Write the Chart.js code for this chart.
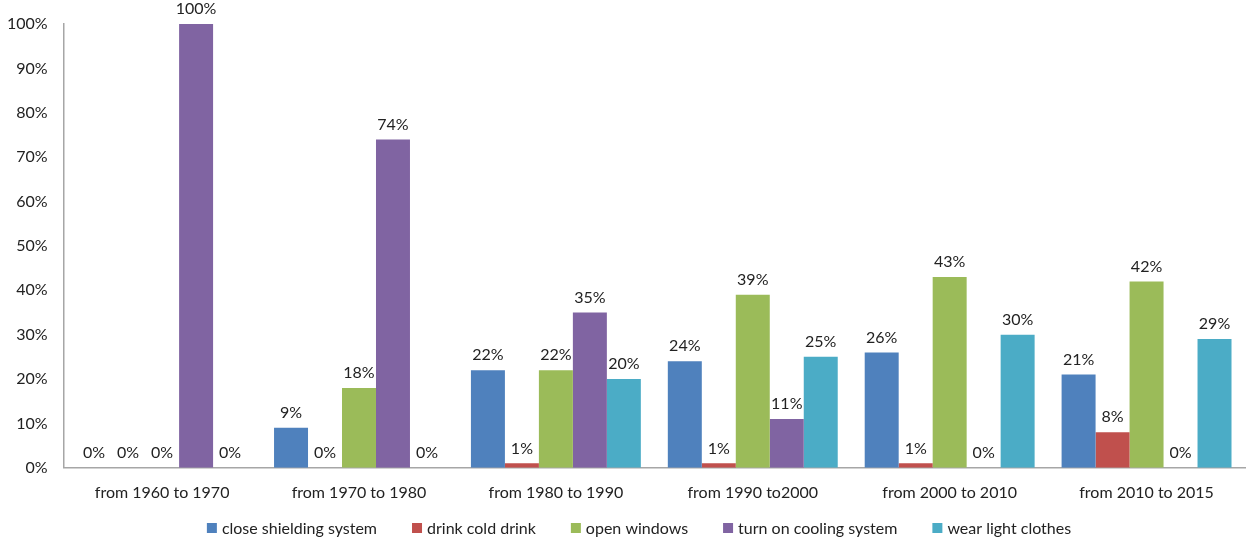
<!DOCTYPE html>
<html>
<head>
<meta charset="utf-8">
<script src="https://cdn.jsdelivr.net/npm/chart.js@4"></script>
<style>
  html, body { margin: 0; padding: 0; background: #fff; }
  #wrap { width: 1253px; height: 540px; }
</style>
</head>
<body>
<div id="wrap"><canvas id="coolChart"></canvas></div>
<script>
'use strict';

// periods and series
var periods = ["from 1960 to 1970", "from 1970 to 1980", "from 1980 to 1990", "from 1990 to2000", "from 2000 to 2010", "from 2010 to 2015"];
var closeShielding = [0, 9, 22, 24, 26, 21];
var drinkCold      = [0, 0, 1, 1, 1, 8];
var openWindows    = [0, 18, 22, 39, 43, 42];
var coolingSystem  = [100, 74, 35, 11, 0, 0];
var lightClothes   = [0, 0, 20, 25, 30, 29];
var yTicks = [0, 10, 20, 30, 40, 50, 60, 70, 80, 90, 100];

var font = "Lato, 'Open Sans', sans-serif";
var textColor = '#222';

// percentage label above each bar
var barLabels = {
  id: 'barLabels',
  afterDatasetsDraw: function(chart) {
    var c = chart.ctx;
    c.save();
    c.font = '16px ' + font;
    c.fillStyle = textColor;
    c.textAlign = 'center';
    c.textBaseline = 'bottom';
    chart.data.datasets.forEach(function(ds, i) {
      chart.getDatasetMeta(i).data.forEach(function(bar, j) {
        c.fillText(ds.data[j] + '%', bar.x, bar.y - 7);
      });
    });
    c.restore();
  }
};

// legend row under the axis (small squares, wide gaps)
var bottomLegend = {
  id: 'bottomLegend',
  afterDraw: function(chart) {
    var c = chart.ctx;
    var box = 10, gapText = 5, gapItem = 35;
    c.save();
    c.font = '16px ' + font;
    c.textBaseline = 'middle';
    c.textAlign = 'left';
    var items = chart.data.datasets.map(function(ds) {
      return { text: ds.label, color: ds.backgroundColor, w: c.measureText(ds.label).width };
    });
    var total = 0;
    items.forEach(function(it, i) {
      total += box + gapText + it.w + (i < items.length - 1 ? gapItem : 0);
    });
    var x = 639 - total / 2;
    var y = 528;
    items.forEach(function(it) {
      c.fillStyle = it.color;
      c.fillRect(x, y - box / 2, box, box);
      c.fillStyle = textColor;
      c.fillText(it.text, x + box + gapText, y + 1);
      x += box + gapText + it.w + gapItem;
    });
    c.restore();
  }
};

var ctx = document.getElementById("coolChart");
var myChart = new Chart(ctx, {
  type: 'bar',
  data: {
    labels: periods,
    datasets: [
      { label: "close shielding system", data: closeShielding, backgroundColor: "#4F81BD" },
      { label: "drink cold drink", data: drinkCold, backgroundColor: "#C0504D" },
      { label: "open windows", data: openWindows, backgroundColor: "#9BBB59" },
      { label: "turn on cooling system", data: coolingSystem, backgroundColor: "#8064A2" },
      { label: "wear light clothes", data: lightClothes, backgroundColor: "#4BACC6" }
    ]
  },
  options: {
    responsive: true,
    maintainAspectRatio: false,
    animation: false,
    layout: { padding: { top: 4, right: 8, left: -9, bottom: 23 } },
    datasets: {
      bar: { categoryPercentage: 0.863, barPercentage: 1.0 }
    },
    plugins: {
      tooltip: { enabled: false },
      legend: { display: false }
    },
    scales: {
      x: {
        grid: { display: false, drawTicks: false },
        border: { color: '#a6a6a6', width: 1.5 },
        ticks: { color: textColor, padding: 15, font: { size: 16, family: font } }
      },
      y: {
        min: 0,
        max: 100,
        afterBuildTicks: function(axis) {
          axis.ticks = yTicks.map(function(v) { return { value: v }; });
        },
        grid: { display: false, drawTicks: false },
        border: { color: '#a6a6a6', width: 1.5 },
        ticks: {
          color: textColor,
          padding: 16,
          font: { size: 16, family: font, lineHeight: 1 },
          callback: function(v) { return v + '%'; }
        }
      }
    }
  },
  plugins: [barLabels, bottomLegend]
});
</script>
</body>
</html>
